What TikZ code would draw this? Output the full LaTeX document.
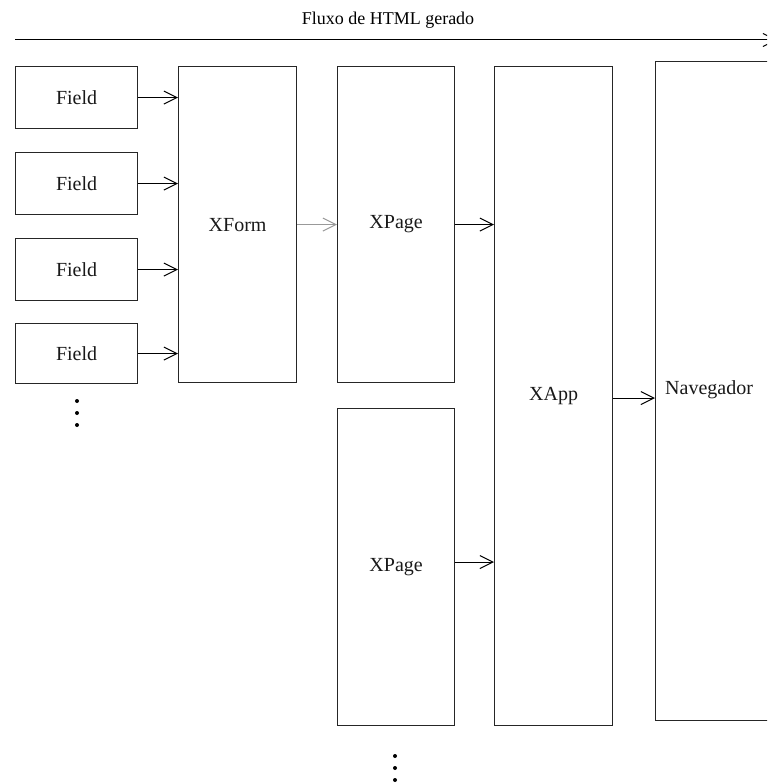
\documentclass[tikz,border=0pt]{standalone}
\usepackage{fontspec}
\setmainfont{Liberation Serif}
\usetikzlibrary{arrows.meta}
\begin{document}
\begin{tikzpicture}[x=1pt,y=-1pt,
  box/.style={draw=black!85, line width=1.2pt, rectangle, anchor=north west, inner sep=0pt,
    font=\fontsize{20}{22}\selectfont, text=black!90},
  conn/.style={line width=1pt, draw=black, -{Straight Barb[length=13pt,width=13pt,line width=1pt]}},
  gconn/.style={conn, draw=black!40},
  lbl/.style={font=\fontsize{20}{22}\selectfont, text=black!90, inner sep=0pt},
  dotm/.style={circle, fill=black, inner sep=0pt, minimum size=4pt}]
\useasboundingbox (0,0) rectangle (767,783);
\clip (0,0) rectangle (767,783);
% title and flow arrow
\node[font=\fontsize{18}{20}\selectfont, inner sep=0pt] (title) at (388,20) {Fluxo de HTML gerado};
\coordinate (fs) at (15,40);
\coordinate (fe) at (777,40);
\draw[conn] (fs) -- (fe);
% fields
\node[box, minimum width=122, minimum height=62] (f1) at (15,66) {Field};
\node[box, minimum width=122, minimum height=62] (f2) at (15,152) {Field};
\node[box, minimum width=122, minimum height=62] (f3) at (15,238) {Field};
\node[box, minimum width=122, minimum height=60] (f4) at (15,323) {Field};
% main boxes
\node[box, minimum width=118, minimum height=316] (xform) at (178,66) {XForm};
\node[box, minimum width=117, minimum height=316] (xp1) at (337,66) {XPage};
\node[box, minimum width=117, minimum height=317] (xp2) at (337,408) {XPage};
\node[box, minimum width=118, minimum height=659] (xapp) at (494,66) {XApp};
\node[box, minimum width=160, minimum height=659] (nav) at (655,61) {};
\node[lbl, anchor=west] (navl) at (665,390) {Navegador};
% connectors
\draw[conn] (f1.east) -- (f1.east -| xform.west);
\draw[conn] (f2.east) -- (f2.east -| xform.west);
\draw[conn] (f3.east) -- (f3.east -| xform.west);
\draw[conn] (f4.east) -- (f4.east -| xform.west);
\draw[gconn] (xform.east) -- (xform.east -| xp1.west);
\draw[conn] (xp1.east) -- (xp1.east -| xapp.west);
\draw[conn] ([yshift=5]xp2.east) -- ([yshift=5]xp2.east -| xapp.west);
\draw[conn] ([yshift=-2]xapp.east) -- ([yshift=-2]xapp.east -| nav.west);
% ellipsis dots
\node[dotm] (d1) at (77,401) {};
\node[dotm] (d2) at (77,413) {};
\node[dotm] (d3) at (77,425) {};
\node[dotm] (d4) at (395,756) {};
\node[dotm] (d5) at (395,768) {};
\node[dotm] (d6) at (395,780) {};
\end{tikzpicture}
\end{document}
